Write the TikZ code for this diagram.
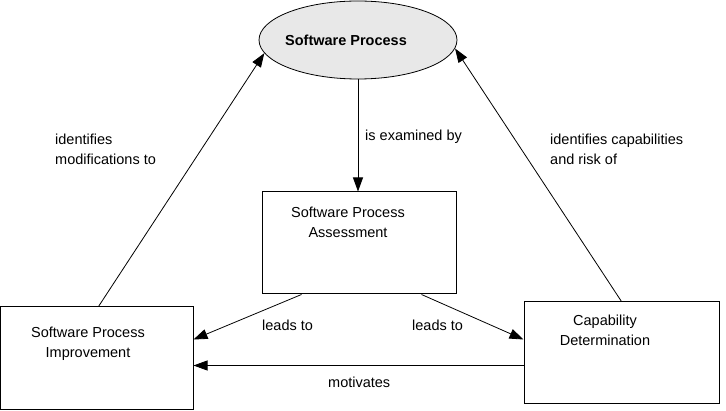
\documentclass[tikz,border=0pt]{standalone}
\usepackage{fontspec}
\setmainfont{Liberation Sans}
\usetikzlibrary{arrows.meta,shapes.geometric,calc}
\begin{document}
\begin{tikzpicture}[x=1pt,y=-1pt,
  font=\fontsize{14.5}{20}\selectfont,
  box/.style={draw,line width=1pt,rectangle,inner sep=0},
  arr/.style={line width=0.8pt,-{Triangle[length=14pt,width=10pt]}},
  lbl/.style={inner sep=0,anchor=base west},
  ctr/.style={inner sep=0,anchor=base}]
\useasboundingbox (0,0) rectangle (726,411);
% nodes
\node[draw,ellipse,line width=0.8pt,fill=black!9,minimum width=198pt,minimum height=78pt,inner sep=0] (sp) at (358,40) {};
\node[ctr,font=\fontsize{14.5}{20}\selectfont\bfseries] (spt) at (346,46) {Software Process};
\node[box,minimum width=194pt,minimum height=102pt] (spa) at (359,243) {};
\node[ctr] (spat) at (348,218) {\begin{tabular}[t]{@{}c@{}}Software Process\\Assessment\end{tabular}};
\node[box,minimum width=193pt,minimum height=103pt] (spi) at (96.5,358.5) {};
\node[ctr] (spit) at (88,338) {\begin{tabular}[t]{@{}c@{}}Software Process\\Improvement\end{tabular}};
\node[box,minimum width=195pt,minimum height=102pt] (cd) at (621.5,353) {};
\node[ctr] (cdt) at (605,326) {\begin{tabular}[t]{@{}c@{}}Capability\\Determination\end{tabular}};
% connectors
\coordinate (a1) at ($(spi.north west)+(99,0)$);
\draw[arr] (a1) -- (sp.188);
\coordinate (a2) at ($(cd.north west)+(98,0)$);
\draw[arr] (a2) -- (sp.-5);
\draw[arr] (sp.south) -- (sp.south |- spa.north);
\coordinate (a3) at ($(spa.south west)+(40,0)$);
\coordinate (b3) at ($(spi.north east)+(0,33)$);
\draw[arr] (a3) -- (b3);
\coordinate (a4) at ($(spa.south west)+(160,0)$);
\coordinate (b4) at ($(cd.north west)+(0,38)$);
\draw[arr] (a4) -- (b4);
\coordinate (a5) at ($(cd.north west)+(0,64)$);
\draw[arr] (a5) -- (spi.east |- a5);
% labels
\node[lbl] (l1) at (55,145) {\begin{tabular}[t]{@{}l@{}}identifies\\modifications to\end{tabular}};
\node[lbl] (l2) at (365,141) {is examined by};
\node[lbl] (l3) at (550,145) {\begin{tabular}[t]{@{}l@{}}identifies capabilities\\and risk of\end{tabular}};
\node[lbl] (l4) at (262,331) {leads to};
\node[lbl] (l5) at (412,331) {leads to};
\node[lbl] (l6) at (328,388) {motivates};
\end{tikzpicture}
\end{document}
